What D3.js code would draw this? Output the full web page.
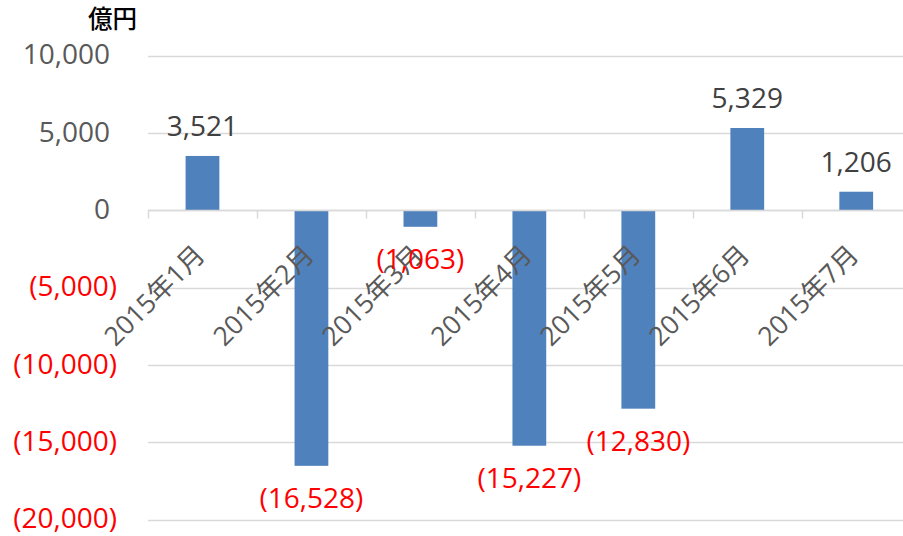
<!DOCTYPE html>
<html>
<head>
<meta charset="utf-8">
<script src="https://cdnjs.cloudflare.com/ajax/libs/d3/7.8.5/d3.min.js"></script>
<style>
  body { margin: 0; background: #fff; }
  svg { display: block; font-family: "Open Sans", "Noto Sans CJK JP", sans-serif; }
</style>
</head>
<body>
<svg id="chart"></svg>
<script>
var months = ["2015年1月", "2015年2月", "2015年3月", "2015年4月", "2015年5月", "2015年6月", "2015年7月"];
var values = [3521, -16528, -1063, -15227, -12830, 5329, 1206];
var yTicks = [10000, 5000, 0, -5000, -10000, -15000, -20000];
var unitLabel = "億円";

var width = 903;
var height = 536;

var svg = d3.select('#chart')
    .attr("width", width)
    .attr("height", height);

var fmt = d3.format(",");
function acct(v) {
    return v < 0 ? "(" + fmt(-v) + ")" : fmt(v);
}

var y = d3.scaleLinear()
    .domain([-20000, 10000])
    .range([519.5, 55.8]);

// category band runs past the right edge, like the original
var x = d3.scaleBand()
    .domain(months)
    .range([148, 910.7])
    .paddingInner(0.69)
    .paddingOuter(0.345);

var step = x.step();

// gridlines
svg.append("g")
    .selectAll("line")
    .data(yTicks)
    .enter()
    .append("line")
    .attr("x1", 148)
    .attr("x2", width)
    .attr("y1", d => Math.round(y(d)) + 0.5)
    .attr("y2", d => Math.round(y(d)) + 0.5)
    .attr("stroke", "#d9d9d9")
    .attr("stroke-width", 1.5);

// y labels
svg.append("g")
    .selectAll("text")
    .data(yTicks)
    .enter()
    .append("text")
    .attr("x", d => d < 0 ? 117 : 110)
    .attr("y", d => y(d))
    .attr("dy", "0.31em")
    .attr("text-anchor", "end")
    .attr("font-size", 28)
    .attr("fill", d => d < 0 ? "#ff0000" : "#595959")
    .text(acct);

// bars
svg.append("g")
    .selectAll("rect")
    .data(values)
    .enter()
    .append("rect")
    .attr("x", (d, i) => x(months[i]))
    .attr("width", x.bandwidth())
    .attr("y", d => y(Math.max(0, d)))
    .attr("height", d => Math.abs(y(d) - y(0)))
    .attr("fill", "#4f81bd");

// category axis at zero
var axisY = Math.round(y(0)) + 0.5;
var axis = svg.append("g");
axis.append("line")
    .attr("x1", 148).attr("x2", width)
    .attr("y1", axisY).attr("y2", axisY)
    .attr("stroke", "#d9d9d9")
    .attr("stroke-width", 1.5);
axis.selectAll(".tick")
    .data(months)
    .enter()
    .append("line")
    .classed("tick", true)
    .attr("x1", d => Math.round(x(d) - step * 0.345) + 0.5)
    .attr("x2", d => Math.round(x(d) - step * 0.345) + 0.5)
    .attr("y1", axisY)
    .attr("y2", axisY + 8)
    .attr("stroke", "#d9d9d9")
    .attr("stroke-width", 1.5);

axis.selectAll(".lbl")
    .data(months)
    .enter()
    .append("text")
    .classed("lbl", true)
    .attr("transform", d => "translate(" + (x(d) + x.bandwidth() / 2 + 4) + "," + (axisY + 46) + ") rotate(-45)")
    .attr("text-anchor", "end")
    .attr("font-size", 26.5)
    .attr("fill", "#595959")
    .text(d => d);

// data labels
svg.append("g")
    .selectAll("text")
    .data(values)
    .enter()
    .append("text")
    .attr("x", (d, i) => x(months[i]) + x.bandwidth() / 2)
    .attr("y", d => d < 0 ? y(d) + 42 : y(d) - 20)
    .attr("text-anchor", "middle")
    .attr("font-size", 28)
    .attr("fill", d => d < 0 ? "#ff0000" : "#404040")
    .text(acct);

// unit
svg.append("text")
    .attr("x", 88)
    .attr("y", 28)
    .attr("font-size", 24.5)
    .attr("font-weight", 500)
    .attr("fill", "#000")
    .text(unitLabel);
</script>
</body>
</html>
